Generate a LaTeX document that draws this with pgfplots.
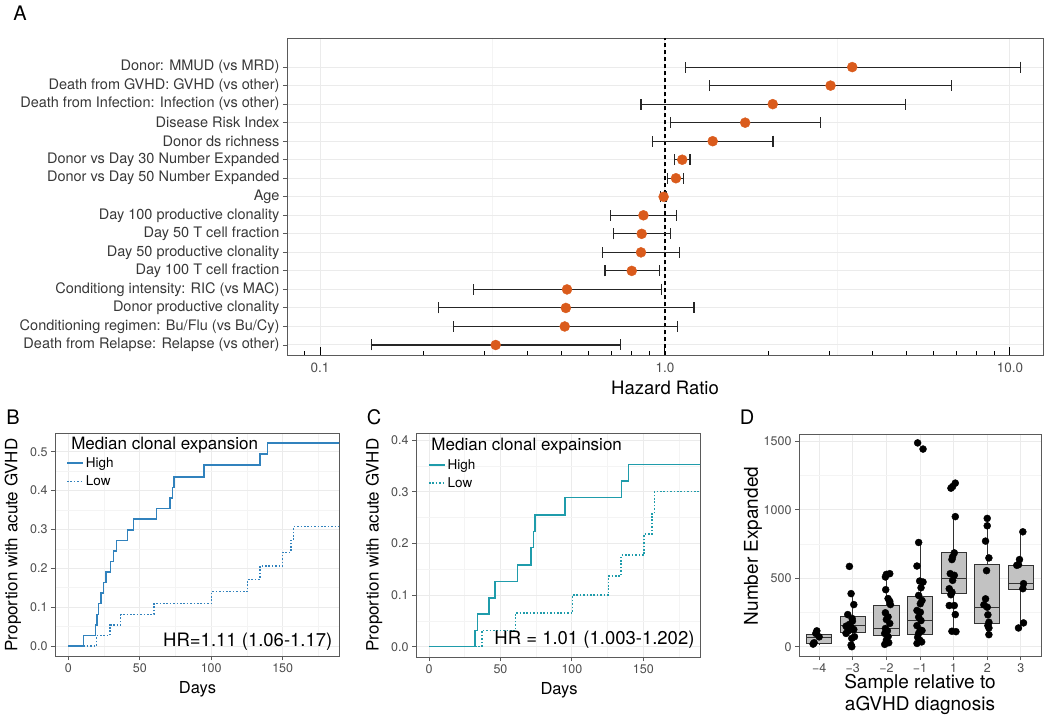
\documentclass[border=0pt]{standalone}
\usepackage{fontspec}
\setmainfont{TeX Gyre Heros}
\usepackage{pgfplots}
\pgfplotsset{compat=1.18}
\usepackage{pgfplotstable}
\usepgfplotslibrary{statistics}

\definecolor{hrorange}{HTML}{DA5B1C}
\definecolor{kmblue}{HTML}{3182BD}
\definecolor{kmteal}{HTML}{1F9CAB}
\definecolor{gridmaj}{HTML}{EBEBEB}
\definecolor{gridmin}{HTML}{F4F4F4}
\definecolor{framecol}{HTML}{5A5A5A}
\definecolor{ticktxt}{HTML}{4D4D4D}
\definecolor{labtxt}{HTML}{383838}
\definecolor{boxfill}{HTML}{C2C2C2}
\definecolor{boxedge}{HTML}{333333}

\newcommand\fs[1]{\fontsize{#1}{#1}\selectfont}

\pgfplotsset{
  gg/.style={
    scale only axis, anchor=south west,
    axis line style={draw=framecol, line width=0.9pt},
    tick style={draw=framecol, line width=0.9pt},
    major tick length=4pt, minor tick length=0pt, tick align=outside,
    xtick pos=bottom, ytick pos=left,
    grid=both,
    major grid style={draw=gridmaj, line width=1pt},
    minor grid style={draw=gridmin, line width=0.6pt},
    tick label style={text=ticktxt, font=\fs{12.5pt}},
    scaled ticks=false,
    /pgf/number format/assume math mode=true,
    /pgf/number format/1000 sep={},
  },
  km/.style={line width=1.6pt, const plot},
  kmlow/.style={line width=1.5pt, const plot, dash pattern=on 1.6pt off 1.8pt},
}

% forest plot: row (1 = bottom), hazard ratio, 95% CI
\pgfplotstableread{
row hr    lo    hi
16  3.49  1.144 10.7
15  3.02  1.343 6.79
14  2.053 0.852 4.97
13  1.708 1.036 2.823
12  1.375 0.921 2.057
11  1.122 1.066 1.182
10  1.076 1.019 1.133
9   0.991 0.972 1.007
8   0.866 0.697 1.083
7   0.856 0.709 1.039
6   0.852 0.660 1.102
5   0.801 0.670 0.963
4   0.520 0.278 0.977
3   0.516 0.221 1.214
2   0.512 0.243 1.086
1   0.323 0.141 0.743
}\hrdata

\pgfplotstableread{
day p
0     0
10.5  0.027
19.1  0.054
20.1  0.081
21.0  0.109
22.9  0.136
24.5  0.163
26.4  0.190
29.6  0.217
31.5  0.244
33.8  0.271
41.5  0.298
45.5  0.326
61.8  0.354
71.1  0.381
73.0  0.408
73.9  0.435
94.9  0.465
134.1 0.494
139.5 0.522
192   0.522
}\bhigh

\pgfplotstableread{
day p
10.5  0
19.8  0.027
29.2  0.054
36.6  0.081
60.0  0.110
100.3 0.140
125.5 0.171
134.1 0.206
150.0 0.241
155.8 0.272
157.5 0.307
192   0.307
}\blow

\pgfplotstableread{
day p
0     0
32.2  0.031
33.8  0.063
42.0  0.094
46.0  0.126
62.0  0.158
71.4  0.192
73.0  0.223
74.0  0.255
95.2  0.289
134.8 0.321
139.7 0.353
192   0.353
}\chigh

\pgfplotstableread{
day p
32.2  0
36.9  0.031
60.4  0.065
100.5 0.100
125.7 0.137
134.4 0.177
150.5 0.218
156.0 0.257
157.7 0.300
192   0.300
}\clow

% number expanded per sample, x = category position with jitter
\pgfplotstableread{
x v
0.93 116
0.90 97
1.00 72
0.85 29
0.82 19
1.90 587
1.95 388
2.03 308
1.85 235
1.98 206
1.99 187
1.90 163
1.80 150
1.95 141
1.85 133
2.03 126
1.87 116
1.80 97
2.05 73
1.97 61
1.95 12
1.97 0
3.00 529
3.10 534
2.97 510
2.98 417
3.05 352
3.10 332
3.12 308
2.97 248
3.05 218
3.00 199
3.10 170
2.97 133
3.03 116
2.95 97
3.05 73
3.00 49
3.07 29
2.95 17
3.93 1490
4.09 1445
3.96 762
3.91 590
3.99 480
4.09 473
4.03 431
3.96 375
4.06 338
4.01 314
3.91 265
4.01 252
3.96 216
4.03 191
3.91 154
4.01 122
3.96 98
4.06 118
3.93 69
3.99 49
3.91 24
4.05 35
5.05 1196
4.97 1171
4.92 1159
5.05 951
5.02 686
4.97 657
4.95 637
4.90 534
5.02 522
4.97 485
4.87 424
4.95 399
4.92 380
4.87 301
5.02 301
5.05 235
4.95 113
5.07 110
6.00 938
6.00 884
5.95 772
6.05 649
5.98 556
5.95 350
5.90 306
6.00 289
6.02 233
6.05 179
6.02 154
6.05 88
6.05 137
7.06 840
6.96 637
6.88 595
6.93 600
7.08 461
7.06 424
7.08 174
6.93 137
}\ddata

\begin{document}
\begin{tikzpicture}
\useasboundingbox (0pt,0pt) rectangle (1050pt,-720pt);

% ---------------- A ----------------
\begin{axis}[gg, at={(287pt,-355pt)}, width=756pt, height=317pt,
  xmode=log, xmin=0.0802, xmax=12.47, ymin=0.46, ymax=17.57,
  xtick={0.1,1,10}, xticklabels={0.1,1.0,10.0},
  minor xtick={0.3162,3.162},
  xtick style={draw=none},
  ytick={1,...,16},
  yticklabels={Death from Relapse: Relapse (vs other),
    Conditioning regimen: Bu/Flu (vs Bu/Cy),
    Donor productive clonality,
    Conditiong intensity: RIC (vs MAC),
    Day 100 T cell fraction,
    Day 50 productive clonality,
    Day 50 T cell fraction,
    Day 100 productive clonality,
    Age,
    Donor vs Day 50 Number Expanded,
    Donor vs Day 30 Number Expanded,
    Donor ds richness,
    Disease Risk Index,
    Death from Infection: Infection (vs other),
    Death from GVHD: GVHD (vs other),
    Donor: MMUD (vs MRD)},
  yticklabel style={font=\fs{14.5pt}, text=labtxt},
  xticklabel style={font=\fs{13.5pt}},
]
\addplot [black, dashed, line width=1.1pt, dash pattern=on 4pt off 3pt]
  coordinates {(1,0.46) (1,17.57)};
\addplot [draw=none, mark=none,
  error bars/.cd, x dir=both, x explicit,
  error bar style={draw=black!85, line width=1.1pt},
  error mark options={rotate=90, draw=black!85, mark size=5.5pt, line width=1.1pt}]
  table [x=hr, y=row,
    x error plus expr=\thisrow{hi}-\thisrow{hr},
    x error minus expr=\thisrow{hr}-\thisrow{lo}] {\hrdata};
\addplot [only marks, mark=*, mark size=5pt, hrorange,
  mark options={draw=hrorange, fill=hrorange}]
  table [x=hr, y=row] {\hrdata};
\end{axis}
% log ticks drawn inside the bottom edge
\begin{axis}[scale only axis, anchor=south west, at={(287pt,-355pt)},
  width=756pt, height=317pt,
  xmode=log, xmin=0.0802, xmax=12.47, ymin=0.46, ymax=17.57,
  axis line style={draw=none}, tick align=inside,
  xtick pos=bottom, ytick=\empty,
  xtick={0.1,1,10}, xticklabels={},
  minor xtick={0.09,0.2,0.3,0.4,0.5,0.6,0.7,0.8,0.9,2,3,4,5,6,7,8,9},
  major tick length=8pt, minor tick length=4pt,
  tick style={draw=black, line width=1pt},
]
\end{axis}

% ---------------- B ----------------
\begin{axis}[gg, at={(55pt,-656pt)}, width=284pt, height=223pt,
  xmin=-9.3, xmax=189.4, ymin=-0.0257, ymax=0.548,
  xtick={0,50,100,150}, minor xtick={25,75,125,175},
  ytick={0,0.1,0.2,0.3,0.4,0.5}, minor ytick={0.05,0.15,0.25,0.35,0.45},
  yticklabel style={/pgf/number format/fixed, /pgf/number format/fixed zerofill,
    /pgf/number format/precision=1},
  legend style={draw=none, fill=none, at={(rel axis cs:0.039,0.90)},
    anchor=north west, font=\fs{13.5pt}, inner sep=0pt, row sep=3pt},
  legend cell align=left,
  legend image code/.code={\draw[#1] (0pt,0pt) -- (16pt,0pt);},
]
\addplot [kmblue, km] table {\bhigh};
\addlegendentry{High}
\addplot [kmblue, kmlow] table {\blow};
\addlegendentry{Low}
\node [anchor=west, font=\fs{17pt}] at (rel axis cs:0.045,0.946) {Median clonal expansion};
\node [anchor=east, font=\fs{18.5pt}] at (rel axis cs:0.989,0.064) {HR=1.11 (1.06-1.17)};
\end{axis}

% ---------------- C ----------------
\begin{axis}[gg, at={(416pt,-657pt)}, width=284pt, height=224pt,
  xmin=-9.1, xmax=189.6, ymin=-0.02, ymax=0.4136,
  xtick={0,50,100,150}, minor xtick={25,75,125,175},
  ytick={0,0.1,0.2,0.3,0.4}, minor ytick={0.05,0.15,0.25,0.35},
  yticklabel style={/pgf/number format/fixed, /pgf/number format/fixed zerofill,
    /pgf/number format/precision=1},
  legend style={draw=none, fill=none, at={(rel axis cs:0.042,0.893)},
    anchor=north west, font=\fs{13.5pt}, inner sep=0pt, row sep=3pt},
  legend cell align=left,
  legend image code/.code={\draw[#1] (0pt,0pt) -- (16pt,0pt);},
]
\addplot [kmteal, km] table {\chigh};
\addlegendentry{High}
\addplot [kmteal, kmlow] table {\clow};
\addlegendentry{Low}
\node [anchor=west, font=\fs{17pt}] at (rel axis cs:0.042,0.942) {Median clonal expainsion};
\node [anchor=east, font=\fs{18.5pt}] at (rel axis cs:0.993,0.076) {HR = 1.01 (1.003-1.202)};
\end{axis}

% ---------------- D ----------------
\begin{axis}[gg, at={(799pt,-656pt)}, width=242pt, height=222pt,
  xmin=0.4, xmax=7.6, ymin=-68, ymax=1555,
  xtick={1,...,7}, xticklabels={−4,−3,−2,−1,1,2,3},
  ytick={0,500,1000,1500}, minor ytick={250,750,1250},
  boxplot/draw direction=y,
  boxplot/box extend=0.75, boxplot/whisker extend=0.02,
]
\addplot [boxplot prepared={draw position=1, lower whisker=19, lower quartile=27,
  median=68, upper quartile=87, upper whisker=118},
  draw=boxedge, fill=boxfill, line width=0.9pt] coordinates {};
\addplot [boxplot prepared={draw position=2, lower whisker=0, lower quartile=104,
  median=155, upper quartile=218, upper whisker=388},
  draw=boxedge, fill=boxfill, line width=0.9pt] coordinates {};
\addplot [boxplot prepared={draw position=3, lower whisker=17, lower quartile=83,
  median=133, upper quartile=303, upper whisker=534},
  draw=boxedge, fill=boxfill, line width=0.9pt] coordinates {};
\addplot [boxplot prepared={draw position=4, lower whisker=24, lower quartile=86,
  median=191, upper quartile=370, upper whisker=762},
  draw=boxedge, fill=boxfill, line width=0.9pt] coordinates {};
\addplot [boxplot prepared={draw position=5, lower whisker=110, lower quartile=387,
  median=502, upper quartile=686, upper whisker=951},
  draw=boxedge, fill=boxfill, line width=0.9pt] coordinates {};
\addplot [boxplot prepared={draw position=6, lower whisker=88, lower quartile=167,
  median=289, upper quartile=603, upper whisker=938},
  draw=boxedge, fill=boxfill, line width=0.9pt] coordinates {};
\addplot [boxplot prepared={draw position=7, lower whisker=137, lower quartile=417,
  median=461, upper quartile=595, upper whisker=840},
  draw=boxedge, fill=boxfill, line width=0.9pt] coordinates {};
\addplot [only marks, mark=*, mark size=3.5pt, black] table [x=x, y=v] {\ddata};
\end{axis}

% ---------------- labels ----------------
\node [font=\fs{20pt}] at (20pt,-13pt) {A};
\node [font=\fs{20pt}] at (13pt,-417pt) {B};
\node [font=\fs{20pt}] at (374pt,-417pt) {C};
\node [font=\fs{20pt}] at (747pt,-417pt) {D};
\node [font=\fs{18.5pt}] at (665pt,-388pt) {Hazard Ratio};
\node [font=\fs{16.5pt}] at (197.5pt,-689pt) {Days};
\node [font=\fs{16.5pt}] at (559pt,-690pt) {Days};
\node [rotate=90, font=\fs{17pt}] at (13pt,-545pt) {Proportion with acute GVHD};
\node [rotate=90, font=\fs{17pt}] at (374pt,-545pt) {Proportion with acute GVHD};
\node [rotate=90, font=\fs{19pt}] at (753pt,-546pt) {Number Expanded};
\node [font=\fontsize{19pt}{22pt}\selectfont, align=center] at (920pt,-694pt)
  {Sample relative to\\aGVHD diagnosis};
\end{tikzpicture}
\end{document}
